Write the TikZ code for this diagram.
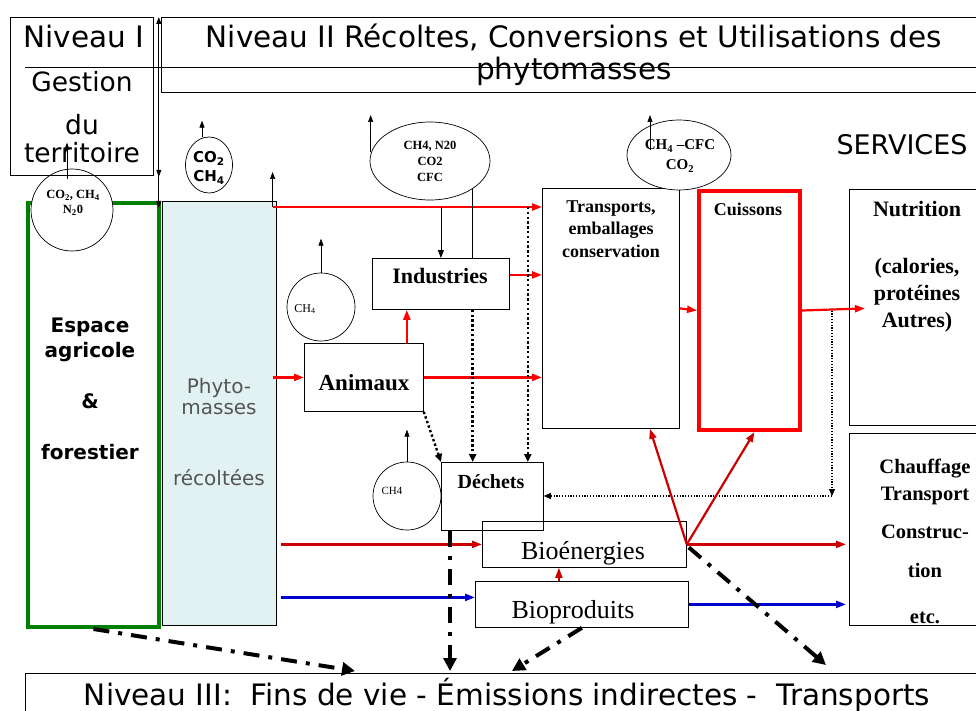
\documentclass[tikz,border=0pt]{standalone}
\usepackage{fontspec}
\setmainfont{Liberation Serif}
\setsansfont{DejaVu Sans}
\usetikzlibrary{arrows.meta, calc, shapes.geometric}

\definecolor{vert}{RGB}{0,128,0}
\definecolor{rouge}{RGB}{255,0,0}
\definecolor{rougef}{RGB}{204,0,0}
\definecolor{bleu}{RGB}{0,0,204}
\definecolor{phytofond}{RGB}{226,242,243}
\definecolor{gristexte}{RGB}{85,85,85}
\newcommand{\fs}[2]{\fontsize{#1}{#2}\selectfont}

\begin{document}
\begin{tikzpicture}[
    x=1pt, y=-1pt,
    box/.style={draw, line width=0.8pt, inner sep=0pt, anchor=north west},
    gas/.style={draw, fill=white, line width=0.7pt, inner sep=0pt},
    txt/.style={inner sep=0pt, anchor=base, align=center},
    niv/.style={txt, font=\sffamily\fs{29.5}{32}},
    bold/.style 2 args={txt, font=\bfseries\fs{#1}{#2}},
    emis/.style={-{Triangle[length=7pt, width=5pt]}, line width=0.7pt},
    redarr/.style={-{Triangle[length=10pt, width=7pt]}, rouge, line width=2.2pt},
    darkarr/.style={-{Triangle[length=10pt, width=7pt]}, rougef, line width=2.2pt},
    bluearr/.style={-{Triangle[length=10pt, width=7pt]}, bleu, line width=2.2pt},
    dotarr/.style={-{Triangle[length=8pt, width=7pt]}, line width=2.4pt, dash pattern=on 2.4pt off 2.4pt},
    thindot/.style={-{Triangle[length=7pt, width=6pt]}, line width=1.2pt, dash pattern=on 1.2pt off 1.6pt},
    endlife/.style={-{Triangle[length=13pt, width=13pt]}, line width=4pt, dash pattern=on 16pt off 9pt on 4pt off 9pt},
]
\useasboundingbox (0,0) rectangle (976,711);

% --- LEFT: espace + emissions ---
\node[box, draw=vert, line width=4pt, minimum width=131, minimum height=424] (espace) at (26,201) {};
\node[gas, circle, minimum size=82] (gasagri) at (72,210) {};
\node[txt, font=\bfseries\fs{12.5}{15}] (gasagrit) at (73,214) {CO\textsubscript{2}, CH\textsubscript{4}\\N\textsubscript{2}0};
\node[txt, font=\sffamily\bfseries\fs{20}{25}] (espacet) at (90,459) {Espace\\agricole\\[26pt]\&\\[26pt]forestier};

% --- NIVEAUX ---
\node[box, minimum width=143, minimum height=158] (niv1) at (10,17) {};
\node[box, minimum width=830, minimum height=75] (niv2) at (161,17) {};
\node[box, minimum width=965, minimum height=50] (niv3) at (25,673) {};
\node[niv] (niv1t) at (84,48) {Niveau I};
\node[txt, font=\sffamily\fs{26.5}{28}] (gestion) at (82,163) {Gestion\\[15pt]du\\territoire};
\node[niv] (niv2t) at (574,80) {Niveau II Récoltes, Conversions et Utilisations des\\phytomasses};
\node[niv] (niv3t) at (507,705) {Niveau III:\ \ Fins de vie - Émissions indirectes -\ \ Transports};
\node[txt, font=\sffamily\fs{27}{28}] (services) at (902,155) {SERVICES};
\coordinate (sep) at ($(niv1.north west)+(15,50)$);
\draw (sep) -- (sep -| niv2.east);
\draw[{Triangle[length=7pt, width=5pt]}-{Triangle[length=7pt, width=5pt]}, line width=1.2pt]
    ($(niv1.north east)+(5,0)$) -- ($(niv1.north east)+(5,191)$);
\draw[emis] ($(niv1.south east)+(5,-20)$) -- ($(niv1.south east)+(5,1)$);
\draw[emis] ($(gasagri.north)+(-5,10)$) -- ++(0,-36);

% --- PHYTOMASSES ---
\node[box, fill=phytofond, line width=0.6pt, minimum width=114, minimum height=424] (phyto) at (162,201) {};
\node[txt, text=gristexte, font=\sffamily\fs{20}{21}] (phytot) at (219,485) {Phyto-\\masses\\[50pt]récoltées};
\node[gas, ellipse, minimum width=47, minimum height=56] (gasphyto) at (209,165) {};
\node[txt, font=\sffamily\bfseries\fs{15}{19}] (gasphytot) at (209,182) {CO\textsubscript{2}\\CH\textsubscript{4}};
\draw[emis] ($(gasphyto.north)+(-7,0)$) -- ++(0,-16);
\coordinate (rtop) at ($(phyto.north east)+(-4,6)$);
\draw[emis] (rtop) -- ++(0,-35);

% --- CONVERSIONS ---
\node[box, minimum width=137, minimum height=51] (indus) at (372,258) {};
\node[bold={22}{26}] (indust) at (440,283) {Industries};
\node[box, minimum width=119, minimum height=68] (anim) at (304,343) {};
\node[bold={23}{26}] (animt) at (364,390) {Animaux};
\node[box, minimum width=102, minimum height=68] (dech) at (441,462) {};
\node[bold={20}{24}] (decht) at (491,488) {Déchets};
\node[box, minimum width=204, minimum height=46] (bioen) at (482,521) {};
\node[txt, font=\fs{26}{30}] (bioent) at (583,559) {Bioénergies};
\node[box, minimum width=213, minimum height=46] (bioprod) at (475,581) {};
\node[txt, font=\fs{26}{30}] (bioprodt) at (573,618) {Bioproduits};

\node[gas, ellipse, minimum width=120, minimum height=78] (gasind) at (430,161) {};
\node[txt, font=\bfseries\fs{12.5}{16}] (gasindt) at (430,182) {CH4, N20\\CO2\\CFC};
\draw[emis] ($(gasind.west)+(1,-9)$) -- ++(0,-37);
\node[gas, circle, minimum size=68] (gasanim) at (321,307) {};
\node[txt, font=\fs{12}{14}] (gasanimt) at (305,312) {CH\textsubscript{4}};
\draw[emis] (gasanim.north) -- ++(0,-34);
\node[gas, circle, minimum size=68] (gasdech) at (407,496) {};
\node[txt, font=\fs{11}{13}] (gasdecht) at (392,494) {CH4};
\draw[emis] (gasdech.north) -- ++(0,-32);

% --- UTILISATIONS ---
\node[box, minimum width=137, minimum height=240] (transp) at (542,188) {};
\node[bold={18}{22}] (transpt) at (611,257) {Transports,\\emballages\\conservation};
\node[box, draw=rouge, line width=4pt, minimum width=101, minimum height=239] (cuis) at (697,189) {};
\node[bold={18}{22}] (cuist) at (748,215) {Cuissons};
\node[gas, ellipse, minimum width=104, minimum height=70] (gascuis) at (679,155) {};
\node[txt, font=\bfseries\fs{15}{20}] (gascuist) at (680,170) {CH\textsubscript{4} --CFC\\CO\textsubscript{2}};
\draw[emis] ($(gascuis.center)+(-29,-5)$) -- ++(0,-35);

% --- SERVICES ---
\node[box, minimum width=135, minimum height=236] (nutri) at (849,189) {};
\node[bold={22}{27}] (nutrit) at (917,327) {Nutrition\\[30pt](calories,\\protéines\\Autres)};
\node[box, minimum width=135, minimum height=192] (chauff) at (849,433) {};
\node[bold={20.5}{27}] (chaufft) at (925,623) {Chauffage\\Transport\\[11pt]Construc-\\[12pt]tion\\[19pt]etc.};

% --- FLUX ---
\draw[redarr] (rtop) -- (rtop -| transp.west);
\draw[->, >={Triangle[length=8pt, width=6pt]}, line width=0.8pt] (indus.north |- rtop) -- (indus.north);
\draw (gasind.south east) -- (gasind.south east |- indus.north);
\draw[redarr] ($(indus.east)+(0,-9)$) -- ($(indus.east -| transp.west)+(0,-9)$);
\draw[redarr] ($(anim.north east)+(-17,0)$) -- ($(anim.north east |- indus.south)+(-17,0)$);
\draw[redarr] ($(anim.west -| phyto.east)+(-4,0)$) -- (anim.west);
\draw[redarr] (anim.east) -- (anim.east -| transp.west);
\draw[redarr] (transp.east) -- (cuis.west);
\draw[redarr] (cuis.east) -- ($(nutri.west)+(16,1)$);

\draw[dotarr] (anim.south east) -- (dech.north west);
\draw[dotarr] (gasind.south east |- indus.south) -- (gasind.south east |- dech.north);
\coordinate (dvert) at ($(dech.north east)+(-16,0)$);
\draw[dotarr] (dvert |- rtop) -- (dvert);
\coordinate (dcorner) at (832,496);
\draw[thindot] (dcorner |- cuis.east) -- (dcorner);
\draw[thindot] (dcorner) -- (dcorner -| dech.east);

\draw[darkarr] ($(bioen.west -| phyto.east)+(4,0)$) -- (bioen.west);
\draw[darkarr] (bioen.east) -- ($(bioen.east -| chauff.west)+(-3,0)$);
\draw[darkarr] (bioen.east) -- ($(transp.south)+(39,0)$);
\draw[darkarr] (bioen.east) -- ($(cuis.south)+(5,0)$);
\draw[darkarr, line width=1.6pt] ($(bioprod.north)+(-23,0)$) -- ($(bioprod.north |- bioen.south)+(-23,0)$);
\draw[bluearr] ($(bioprod.west -| phyto.east)+(4,-7)$) -- ($(bioprod.west)+(0,-7)$);
\draw[bluearr] (bioprod.east) -- ($(bioprod.east -| chauff.west)+(-3,0)$);

% --- FINS DE VIE ---
\draw[endlife] (espace.south) -- ($(niv3.north west)+(330,-2)$);
\draw[endlife] ($(dech.south west)+(9,0)$) -- ($(dech.south west |- niv3.north)+(9,-2)$);
\draw[endlife] (bioprod.south) -- ($(niv3.north west)+(487,-2)$);
\draw[endlife] ($(bioen.east)+(2,3)$) -- ($(niv3.north west)+(801,-8)$);

\end{tikzpicture}
\end{document}
